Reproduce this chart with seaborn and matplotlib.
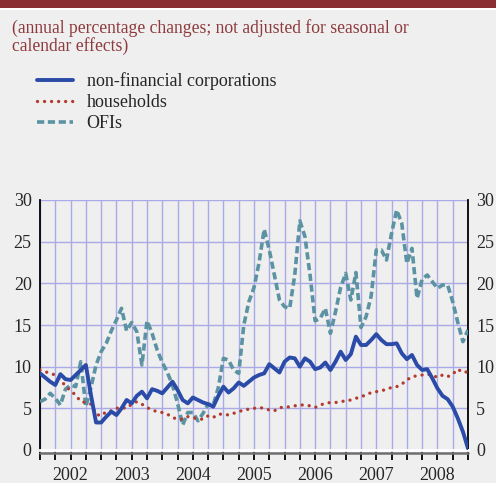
import numpy as np
import pandas as pd
import matplotlib
matplotlib.use("Agg")
import matplotlib.pyplot as plt
import seaborn as sns
from matplotlib.patches import Rectangle

# datos mensuales, enero 2002 - enero 2009
meses = pd.date_range("2002-01-01", "2009-01-01", freq="MS")

nfc = [9.2, 8.7, 8.2, 7.8, 9.1, 8.5, 8.4, 9.0, 9.6, 10.2, 6.6, 3.3,
       3.3, 4.0, 4.6, 4.2, 5.0, 6.0, 5.6, 6.5, 7.0, 6.2, 7.3, 7.1,
       6.8, 7.5, 8.2, 7.2, 6.0, 5.6, 6.3, 6.0, 5.7, 5.5, 5.2, 6.5,
       7.6, 6.9, 7.4, 8.1, 7.7, 8.2, 8.7, 9.0, 9.2, 10.3, 9.8, 9.3,
       10.6, 11.1, 11.0, 10.0, 11.0, 10.6, 9.7, 9.9, 10.5, 9.6, 10.6, 11.8,
       10.8, 11.5, 13.6, 12.6, 12.6, 13.2, 13.9, 13.2, 12.7, 12.7, 12.8, 11.6,
       10.9, 11.4, 10.2, 9.6, 9.7, 8.6, 7.4, 6.5, 6.1, 5.2, 3.8, 2.2,
       0.2]

hogares = [9.6, 9.4, 9.2, 9.0, 8.4, 7.7, 7.1, 6.6, 5.8, 5.7, 5.5, 4.3,
           4.1, 4.6, 4.7, 5.0, 5.1, 5.0, 5.5, 5.8, 5.5, 5.1, 4.8, 4.6,
           4.5, 4.3, 3.9, 3.7, 3.7, 4.0, 3.9, 3.7, 3.7, 4.1, 3.9, 4.3,
           4.3, 4.2, 4.4, 4.6, 4.8, 4.9, 5.0, 5.1, 5.0, 4.8, 4.7, 5.1,
           5.1, 5.2, 5.3, 5.4, 5.4, 5.3, 5.1, 5.4, 5.6, 5.7, 5.7, 5.8,
           5.9, 6.0, 6.2, 6.4, 6.6, 6.9, 7.0, 7.1, 7.3, 7.5, 7.6, 7.9,
           8.4, 8.8, 8.9, 9.0, 9.1, 9.0, 8.7, 9.0, 8.8, 9.1, 9.7, 9.3,
           9.4]

ofis = [5.8, 6.1, 6.8, 6.2, 5.4, 7.3, 7.8, 7.6, 10.6, 5.2, 7.5, 10.2,
        11.8, 12.8, 14.3, 15.6, 17.0, 14.3, 15.3, 14.2, 10.2, 15.5, 14.0, 12.0,
        10.5, 9.3, 7.8, 5.6, 3.0, 4.5, 4.5, 3.5, 4.4, 5.5, 5.4, 7.5,
        11.0, 10.8, 9.6, 9.2, 15.0, 17.8, 19.5, 22.5, 26.5, 24.0, 21.0, 18.0,
        17.2, 17.0, 21.0, 27.5, 25.6, 21.0, 15.5, 15.8, 17.0, 14.0, 16.6, 19.5,
        21.2, 18.0, 21.3, 14.7, 16.0, 18.5, 24.0, 24.0, 22.8, 26.0, 28.8, 27.2,
        22.4, 24.2, 18.2, 20.5, 21.0, 20.2, 19.4, 19.8, 19.8, 17.8, 15.3, 13.0,
        14.4]

etiquetas = ["non-financial corporations", "households", "OFIs"]
anios = [2002, 2003, 2004, 2005, 2006, 2007, 2008]
subtitulo = "(annual percentage changes; not adjusted for seasonal or\ncalendar effects)"

df = pd.DataFrame({
    "x": meses.year + (meses.month - 1) / 12,
    "nfc": nfc,
    "hogares": hogares,
    "ofis": ofis,
})

sns.set_style("white")
plt.rcParams["font.family"] = ["Liberation Serif", "DejaVu Serif"]

fondo = "#efefef"
rejilla = "#aaaae6"
W, H = 496, 483
fig = plt.figure(figsize=(W / 100, H / 100), dpi=100, facecolor=fondo)
ax = fig.add_axes([40 / W, 33 / H, 428 / W, 250 / H])
ax.set_facecolor(fondo)

# --- series ---
sns.lineplot(data=df, x="x", y="ofis", ax=ax, color="#5b93a3", lw=2.6,
             linestyle=(0, (2.0, 1.0)), label=etiquetas[2], zorder=3)
sns.lineplot(data=df, x="x", y="hogares", ax=ax, color="#b33b2e", lw=2.4,
             linestyle=(0, (0.01, 2.1)), dash_capstyle="round", label=etiquetas[1], zorder=4)
sns.lineplot(data=df, x="x", y="nfc", ax=ax, color="#2b4ba8", lw=2.8,
             label=etiquetas[0], zorder=5)

handles, labels = ax.get_legend_handles_labels()
ax.get_legend().remove()
orden = [2, 1, 0]
fig.legend([handles[i] for i in orden], [labels[i] for i in orden],
           loc="upper left", bbox_to_anchor=(37 / W, 1 - 72 / H),
           frameon=False, prop={"family": "Liberation Serif", "size": 13},
           handlelength=2.0, handletextpad=0.75,
           labelspacing=0.22, borderpad=0, borderaxespad=0)

# --- ejes ---
ax.set_xlim(2002, 2009)
ax.set_ylim(0, 30)
ax.set_yticks(range(0, 31, 5))
ax.xaxis.remove_overlapping_locs = False
ax.set_xticks(np.arange(2002, 2009.01, 0.25), minor=True)
ax.set_xticks([a + 0.5 for a in anios])
ax.set_xticklabels(anios)
ax.set_xlabel("")
ax.set_ylabel("")

ax.grid(which="minor", axis="x", color=rejilla, lw=1)
ax.grid(which="major", axis="y", color=rejilla, lw=1)
ax.grid(which="major", axis="x", visible=False)

ax.tick_params(axis="y", which="both", length=0, labelsize=13,
               labelleft=True, labelright=True, pad=6)
ax.tick_params(axis="x", which="major", length=0, labelsize=13, pad=12)
ax.tick_params(axis="x", which="minor", direction="out", length=7,
               width=1.3, color="black", bottom=True)

ax.spines["top"].set_visible(False)
ax.spines["left"].set_color("black")
ax.spines["left"].set_linewidth(1.3)
ax.spines["right"].set_color("black")
ax.spines["right"].set_linewidth(1.3)
ax.spines["bottom"].set_color("white")
ax.spines["bottom"].set_linewidth(2)

# linea gris bajo el eje (marcas trimestrales)
ax.plot([2002, 2009], [-0.013, -0.013], transform=ax.get_xaxis_transform(),
        color="#6e6e6e", lw=1.8, clip_on=False, zorder=1)

# --- cabecera ---
fig.add_artist(Rectangle((0, 1 - 8 / H), 1, 8 / H, transform=fig.transFigure,
                         color="#8a2e33", lw=0))
fig.add_artist(Rectangle((0, 1 - 10 / H), 1, 2 / H, transform=fig.transFigure,
                         color="white", lw=0))
fig.text(12 / W, 1 - 19 / H, subtitulo, ha="left", va="top", fontsize=12.7,
         color="#8e3a3d", linespacing=0.98)

fig.savefig("out.png", dpi=100, facecolor=fondo)
